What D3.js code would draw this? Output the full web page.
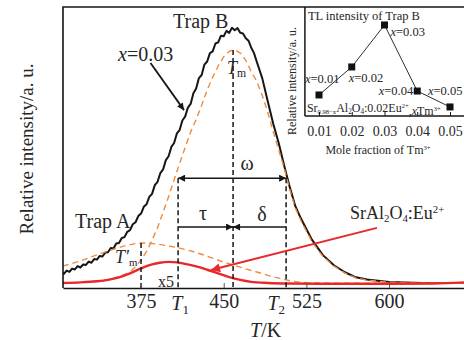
<!DOCTYPE html>
<html><head><meta charset="utf-8">
<script src="https://cdn.jsdelivr.net/npm/d3@7"></script>
<style>
body{margin:0;background:#fff}
svg{display:block}
text{font-family:"Liberation Serif","Times New Roman",serif;fill:#262626}
</style>
</head><body>
<svg id="c" width="464" height="340"></svg>
<script>
// ---------------- data ----------------
// x = 0.03 measured glow curve (T in K, relative intensity)
const blackT = [304.2,305,307.5,310,312.5,315,317.5,320,322.5,325,327.5,330,332.5,335,337.5,340,342.5,345,347.5,350,352.5,355,357.5,360,362.5,365,367.5,370,372.5,375,377.5,380,382.5,385,387.5,390,392.5,395,397.5,400,402.5,405,407.5,410,412.5,415,417.5,420,422.5,425,427.5,430,432.5,435,437.5,440,442.5,445,447.5,450,452.5,455,457.5,460,462.5,465,467.5,470,472.5,475,477.5,480,485,490,495,500,505,510,515,520,530,540,550,560,570,580,600,630,668];
const blackI = [5.5,5.0,6.2,5.7,6.9,6.6,7.8,7.3,8.4,8.2,9.4,9.0,10.3,10.1,11.4,11.2,12.6,12.7,14.2,14.1,15.8,16.0,17.8,18.1,20.0,20.6,22.7,23.4,25.6,26.5,28.9,29.8,32.4,33.5,36.6,37.8,40.9,42.2,45.5,46.9,50.2,51.6,55.0,56.2,59.6,61.0,64.2,65.5,69.3,71.0,74.7,75.8,79.5,80.6,83.6,84.2,87.0,87.4,89.8,89.6,91.5,90.8,92.6,91.7,92.5,90.8,90.6,88.9,88.0,85.5,83.6,80.5,74.6,66.4,58.4,51.4,43.3,35.8,29.1,24.8,17.2,11.7,8.1,5.6,3.8,3.0,2.1,1.8,1.8];
// fitted Trap B peak
const fitBT = [304,320,340,350,360,365,370,375,380,385,390,395,400,405,410,415,420,425,430,435,440,445,450,455,458.5,462,466,470,475,480,485,490,495,500,505,510,515,520,530,540,550,560,570,580,600,630,668];
const fitBI = [1.8,2.0,2.6,3.4,4.8,5.8,7.5,10.0,13.0,17.0,21.5,27.0,32.5,38.5,44.3,50.0,55.5,60.0,65.0,70.5,75.0,79.0,82.3,84.2,84.7,84.4,83.3,81.0,77.0,73.5,68.5,62.5,55.5,49.0,42.5,35.0,28.5,24.0,16.5,11.2,7.8,5.3,3.6,2.8,2.0,1.8,1.8];
// fitted Trap A peak
const fitAT = [304,320,335,350,360,370,375,380,390,400,410,420,430,440,450,460,470,480,490,500,510,520,530,560,600,668];
const fitAI = [7.8,9.6,11.8,13.8,15.0,15.8,16.0,16.0,15.6,15.0,14.2,13.2,12.0,10.6,9.2,8.0,6.8,5.7,4.5,3.5,2.6,2.0,1.8,1.7,1.7,1.7];
// SrAl2O4:Eu2+ (x5)
const euT = [304,320,335,345,355,365,375,385,392,400,408,415,425,435,445,455,465,475,490,510,550,600,640,668];
const euI = [1.8,2.0,2.4,2.9,3.8,5.2,7.0,8.4,9.0,9.3,9.1,8.6,7.7,6.5,5.2,3.9,2.9,2.2,1.8,1.6,1.5,1.5,1.6,2.0];
// characteristic temperatures
const markerTemps = [375, 408.6, 458.5, 506.6];   // T'm, T1, Tm, T2
const markerTops  = [16.0, 39.1, 84.7, 39.1];
const omegaLevel = 39.1, tauLevel = 21.7;
const mainTicks = [375, 450, 525, 600];
// inset
const moleFrac = [0.01, 0.02, 0.03, 0.04, 0.05];
const trapB = [19.3, 45.0, 83.5, 22.9, 8.3];
const insetTicks = ["0.01","0.02","0.03","0.04","0.05"];

// ---------------- scales ----------------
const svg = d3.select("#c");
const x = d3.scaleLinear().domain([304.2, 668]).range([63, 464]);
const y = d3.scaleLinear().domain([0, 100]).range([288, 7]);
const xi = d3.scaleLinear().domain([0.01, 0.05]).range([319, 450]);
const yi = d3.scaleLinear().domain([0, 100]).range([116, 7]);
const ink = "#161616", orange = "#f08a3c", red = "#e8282b";

const defs = svg.append("defs");
defs.append("clipPath").attr("id","plot").append("rect")
  .attr("x", x.range()[0]).attr("y", y.range()[1])
  .attr("width", x.range()[1]-x.range()[0]).attr("height", y.range()[0]-y.range()[1]);
function marker(id, color, w, h){
  defs.append("marker").attr("id", id).attr("viewBox","0 0 10 10")
    .attr("refX",10).attr("refY",5).attr("markerWidth",w).attr("markerHeight",h)
    .attr("markerUnits","userSpaceOnUse").attr("orient","auto-start-reverse")
    .append("path").attr("d","M0,0L10,5L0,10z").attr("fill",color);
}
marker("ah", ink, 11, 7);
marker("ahr", red, 13, 9);

const line = d3.line().x(d=>x(d[0])).y(d=>y(d[1]));
const g = svg.append("g").attr("clip-path","url(#plot)");

g.append("path").attr("d", line(d3.zip(blackT, blackI)))
  .attr("fill","none").attr("stroke",ink).attr("stroke-width",2).attr("stroke-linejoin","round");
g.append("path").attr("d", line(d3.zip(fitBT, fitBI)))
  .attr("fill","none").attr("stroke",orange).attr("stroke-width",1.4).attr("stroke-dasharray","6,4");
g.append("path").attr("d", line(d3.zip(fitAT, fitAI)))
  .attr("fill","none").attr("stroke",orange).attr("stroke-width",1.4).attr("stroke-dasharray","6,4");
g.append("path").attr("d", d3.line().curve(d3.curveMonotoneX).x(d=>x(d[0])).y(d=>y(d[1]))(d3.zip(euT, euI)))
  .attr("fill","none").attr("stroke",red).attr("stroke-width",2.4);

// vertical dashed lines
svg.append("g").selectAll("line").data(d3.zip(markerTemps, markerTops)).join("line")
  .attr("x1", d=>x(d[0])).attr("x2", d=>x(d[0]))
  .attr("y1", d=>y(d[1])).attr("y2", y(0))
  .attr("stroke", ink).attr("stroke-width",1.5).attr("stroke-dasharray","5,3");

// omega / tau / delta arrows
const [Tmp, T1, Tm, T2] = markerTemps;
svg.append("line").attr("x1",x(T1)).attr("x2",x(T2)).attr("y1",y(omegaLevel)).attr("y2",y(omegaLevel))
  .attr("stroke",ink).attr("stroke-width",1.5).attr("marker-start","url(#ah)").attr("marker-end","url(#ah)");
svg.append("line").attr("x1",x(T1)).attr("x2",x(Tm)).attr("y1",y(tauLevel)).attr("y2",y(tauLevel))
  .attr("stroke",ink).attr("stroke-width",1.5).attr("marker-end","url(#ah)");
svg.append("line").attr("x1",x(T2)).attr("x2",x(Tm)).attr("y1",y(tauLevel)).attr("y2",y(tauLevel))
  .attr("stroke",ink).attr("stroke-width",1.5).attr("marker-end","url(#ah)");

// x = 0.03 pointer arrow and SrAl2O4 pointer arrow
svg.append("line").attr("x1",x(383.6)).attr("y1",y(80.1)).attr("x2",x(414)).attr("y2",y(63.3))
  .attr("stroke",ink).attr("stroke-width",1.8).attr("marker-end","url(#ah)");
svg.append("line").attr("x1",x(589)).attr("y1",y(21.4)).attr("x2",x(438.5)).attr("y2",y(6.4))
  .attr("stroke",red).attr("stroke-width",2).attr("marker-end","url(#ahr)");

// main frame
svg.append("path").attr("d", `M${x.range()[0]},${y.range()[0]}V${y.range()[1]}H${x.range()[1]}`)
  .attr("fill","none").attr("stroke",ink).attr("stroke-width",1.6);
const ax = svg.append("g").attr("transform",`translate(0,${y(0)})`)
  .call(d3.axisBottom(x).tickValues(mainTicks).tickSizeInner(-5).tickSizeOuter(0).tickPadding(6).tickFormat(d3.format("d")));
ax.select(".domain").attr("stroke",ink).attr("stroke-width",1.6);
ax.selectAll(".tick line").attr("stroke","#555").attr("stroke-width",1);
ax.selectAll(".tick text").attr("font-family","Liberation Serif").attr("font-size",20).attr("fill","#262626");

// T1, T2 labels under axis
function subLabel(sel, main, sub, italic){
  sel.append("tspan").text(main).attr("font-style", italic ? "italic" : null);
  sel.append("tspan").text(sub).attr("font-size","0.65em").attr("dy","0.3em");
}
const t1l = svg.append("text").attr("x",x(T1)+2).attr("y",310).attr("text-anchor","middle").attr("font-size",20);
subLabel(t1l,"T","1",true);
const t2l = svg.append("text").attr("x",x(T2)-1).attr("y",310).attr("text-anchor","end").attr("font-size",20);
subLabel(t2l,"T","2",true);
const tk = svg.append("text").attr("x",x(488)).attr("y",337).attr("text-anchor","middle").attr("font-size",20);
tk.append("tspan").text("T").attr("font-style","italic");
tk.append("tspan").text("/K");

// y label
svg.append("text").attr("transform","translate(33,149) rotate(-90)").attr("text-anchor","middle")
  .attr("font-size",19).text("Relative  intensity/a. u.");

// main annotations
svg.append("text").attr("x",x(404)).attr("y",y(92.5)).attr("font-size",20).text("Trap B");
svg.append("text").attr("x",x(315.1)).attr("y",y(21.4)).attr("font-size",20).text("Trap A");
const xl = svg.append("text").attr("x",x(354.1)).attr("y",y(80.8)).attr("font-size",20);
xl.append("tspan").text("x").attr("font-style","italic"); xl.append("tspan").text("=0.03");
const tmp = svg.append("text").attr("x",x(351.4)).attr("y",y(8.9)).attr("font-size",18);
tmp.append("tspan").text("T′").attr("font-style","italic");
tmp.append("tspan").text("m").attr("font-size","0.6em").attr("dy","0.3em");
const tml = svg.append("text").attr("x",x(453)).attr("y",y(76.2)).attr("font-size",18);
subLabel(tml,"T","m",true);
svg.append("text").attr("x",x(471.2)).attr("y",y(42)).attr("text-anchor","middle").attr("font-size",20).text("ω");
svg.append("text").attr("x",x(431.3)).attr("y",y(24.2)).attr("text-anchor","middle").attr("font-size",20).text("τ");
svg.append("text").attr("x",x(484.8)).attr("y",y(23.8)).attr("text-anchor","middle").attr("font-size",20).text("δ");
svg.append("text").attr("x",x(390.4)).attr("y",y(0.4)).attr("font-size",16).text("x5");
const sa = svg.append("text").attr("x",x(564.6)).attr("y",y(24.6)).attr("font-size",18);
sa.append("tspan").text("SrAl");
sa.append("tspan").text("2").attr("font-size","0.6em").attr("dy","0.3em");
sa.append("tspan").text("O").attr("dy","-0.18em");
sa.append("tspan").text("4").attr("font-size","0.6em").attr("dy","0.3em");
sa.append("tspan").text(":Eu").attr("dy","-0.18em");
sa.append("tspan").text("2+").attr("font-size","0.6em").attr("dy","-0.55em");

// ---------------- inset ----------------
const ig = svg.append("g");
ig.append("line").attr("x1",xi(0.0057)).attr("x2",xi(0.0057)).attr("y1",yi.range()[1]).attr("y2",yi(0))
  .attr("stroke",ink).attr("stroke-width",1.5);
const iax = ig.append("g").attr("transform",`translate(0,${yi(0)})`)
  .call(d3.axisBottom(xi).tickValues(moleFrac).tickFormat((d,i)=>insetTicks[i]).tickSizeInner(-4).tickSizeOuter(0).tickPadding(10));
iax.select(".domain").attr("d",`M${xi(0.0057)},0H464`).attr("stroke",ink).attr("stroke-width",1.5);
iax.selectAll(".tick line").attr("stroke",ink);
iax.selectAll(".tick text").attr("font-family","Liberation Serif").attr("font-size",14).attr("fill","#262626");
ig.append("path").attr("d", d3.line().x(d=>xi(d[0])).y(d=>yi(d[1]))(d3.zip(moleFrac, trapB)))
  .attr("fill","none").attr("stroke",ink).attr("stroke-width",0.9);
ig.selectAll("rect.pt").data(d3.zip(moleFrac, trapB)).join("rect").attr("class","pt")
  .attr("x",d=>xi(d[0])-3.5).attr("y",d=>yi(d[1])-3.5).attr("width",7).attr("height",7).attr("fill","#111");
const offs = [[-14,-12,"start"],[-3,15,"start"],[6,11,"start"],[-4,4,"end"],[-22,-12,"start"]];
ig.selectAll("text.pl").data(d3.zip(moleFrac, trapB)).join("text").attr("class","pl")
  .attr("x",(d,i)=>xi(d[0])+offs[i][0]).attr("y",(d,i)=>yi(d[1])+offs[i][1])
  .attr("text-anchor",(d,i)=>offs[i][2]).attr("font-size",12.5)
  .each(function(d){ const t=d3.select(this);
    t.append("tspan").text("x").attr("font-style","italic");
    t.append("tspan").text("="+d3.format(".2f")(d[0])); });
ig.append("text").attr("x",xi(0.0057)+3).attr("y",20).attr("font-size",12.5).text("TL intensity of Trap B");
const fm = ig.append("text").attr("x",xi(0.0057)+2).attr("y",112).attr("font-size",12);
fm.append("tspan").text("Sr");
fm.append("tspan").text("0.98−x").attr("font-size","0.55em").attr("dy","0.3em");
fm.append("tspan").text("Al").attr("dy","-0.17em");
fm.append("tspan").text("2").attr("font-size","0.6em").attr("dy","0.3em");
fm.append("tspan").text("O").attr("dy","-0.18em");
fm.append("tspan").text("4").attr("font-size","0.6em").attr("dy","0.3em");
fm.append("tspan").text(":0.02Eu").attr("dy","-0.18em");
fm.append("tspan").text("2+").attr("font-size","0.55em").attr("dy","-0.55em");
fm.append("tspan").text(",").attr("dy","0.55em");
fm.append("tspan").text("x").attr("font-style","italic");
fm.append("tspan").text("Tm");
fm.append("tspan").text("3+").attr("font-size","0.55em").attr("dy","-0.55em");
const ml = ig.append("text").attr("x",378).attr("y",154).attr("text-anchor","middle").attr("font-size",12);
ml.append("tspan").text("Mole fraction of Tm");
ml.append("tspan").text("3+").attr("font-size","0.55em").attr("dy","-0.55em");
ig.append("text").attr("transform","translate(296,81) rotate(-90)").attr("text-anchor","middle")
  .attr("font-size",12).text("Relative intensity/a. u.");
</script>
</body></html>
